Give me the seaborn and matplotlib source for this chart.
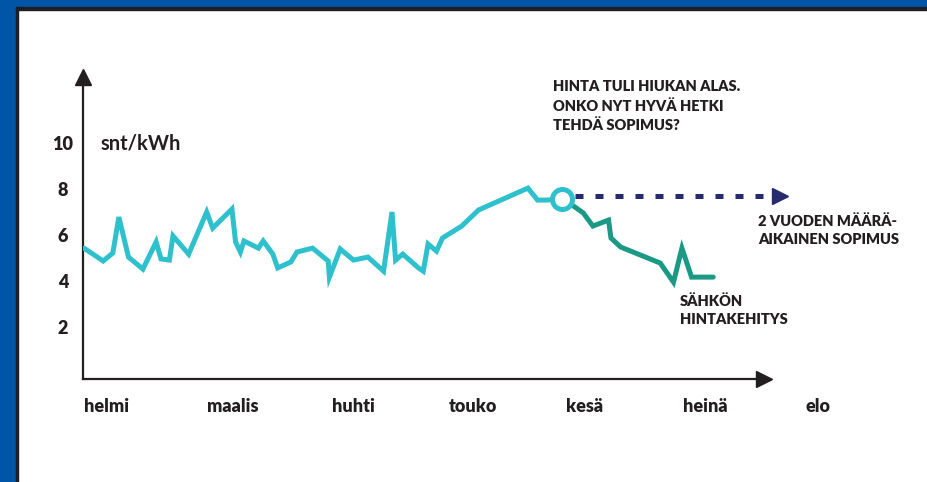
import pandas as pd
import matplotlib.pyplot as plt
import seaborn as sns
from matplotlib.patches import Rectangle


'''data read off the picture: x in months from start of helmi, y in snt/kWh'''
hist_x = [0.0, 0.16, 0.24, 0.29, 0.37, 0.49, 0.60, 0.64, 0.71, 0.74, 0.87,
          1.02, 1.07, 1.23, 1.26, 1.30, 1.33, 1.45, 1.49, 1.57, 1.61, 1.72,
          1.77, 1.90, 2.03, 2.04, 2.13, 2.24, 2.36, 2.49, 2.56, 2.59, 2.65,
          2.78, 2.82, 2.86, 2.93, 2.98, 3.14, 3.28, 3.69, 3.77, 3.85, 3.97]
hist_y = [5.43, 4.87, 5.22, 6.78, 5.04, 4.52, 5.70, 4.96, 4.91, 5.96, 5.17,
          7.00, 6.30, 7.13, 5.70, 5.26, 5.74, 5.43, 5.74, 5.17, 4.57, 4.83,
          5.26, 5.43, 4.87, 4.17, 5.39, 4.91, 5.04, 4.43, 7.00, 4.91, 5.17,
          4.57, 4.43, 5.61, 5.30, 5.87, 6.39, 7.09, 8.04, 7.52, 7.52, 7.57]

drop_x = [3.97, 4.08, 4.15, 4.23, 4.36, 4.38, 4.46, 4.79, 4.90, 4.97, 5.05, 5.23]
drop_y = [7.57, 7.22, 6.96, 6.39, 6.65, 5.87, 5.48, 4.78, 3.95, 5.43, 4.17, 4.17]

fixed_x = [4.08, 5.70]
fixed_y = [7.70, 7.70]

months = ['helmi', 'maalis', 'huhti', 'touko', 'kesä', 'heinä', 'elo']
month_pos = [0, 1.02, 2.06, 3.03, 4.01, 4.98, 6.0]
yticks = [2, 4, 6, 8, 10]

cyan = '#2ec0cc'
teal = '#1a9a85'
navy = '#272a6e'
ink = '#231f20'


sns.set_theme(style='white')
plt.rcParams['font.family'] = ['Lato', 'DejaVu Sans']

fig = plt.figure(figsize=(9.27, 4.82), dpi=100)
fig.patch.set_facecolor('white')

'''blue frame on top and left with a dark inner edge'''
W, H = 927, 482
fig.patches.append(Rectangle((0, 1 - 7 / H), 1, 7 / H, transform=fig.transFigure,
                             color='#0055a6', zorder=0))
fig.patches.append(Rectangle((0, 0), 16 / W, 1, transform=fig.transFigure,
                             color='#0055a6', zorder=0))
fig.patches.append(Rectangle((16 / W, 1 - 10 / H), 1, 3 / H, transform=fig.transFigure,
                             color='#1e1e28', zorder=0))
fig.patches.append(Rectangle((16 / W, 0), 2 / W, 1 - 7 / H, transform=fig.transFigure,
                             color='#1e1e28', zorder=0))

ax = fig.add_axes([83 / W, 0.2137, (763.5 - 83) / W, 0.8402 - 0.2137])
ax.set_facecolor('none')

df_hist = pd.DataFrame({'month': hist_x, 'price': hist_y})
df_drop = pd.DataFrame({'month': drop_x, 'price': drop_y})
df_fixed = pd.DataFrame({'month': fixed_x, 'price': fixed_y})

sns.lineplot(data=df_drop, x='month', y='price', sort=False, color=teal, lw=3.6,
             solid_joinstyle='miter', ax=ax, zorder=3)
sns.lineplot(data=df_hist, x='month', y='price', sort=False, color=cyan, lw=3.6,
             solid_joinstyle='miter', ax=ax, zorder=4)
sns.lineplot(data=df_fixed, x='month', y='price', sort=False, color=navy, lw=3.6,
             linestyle=(0, (1.6, 2.4)), ax=ax, zorder=3)
ax.plot(5.786, fixed_y[-1], '>', color=navy, ms=12, clip_on=False, zorder=3)
ax.plot(hist_x[-1], hist_y[-1], 'o', mfc='white', mec=cyan, ms=14.4, mew=3.6, zorder=5)

ax.set_xlim(-0.008, 5.648)
ax.set_ylim(-0.26, 12.87)

'''arrow axes'''
for side in ['top', 'right']:
    ax.spines[side].set_visible(False)
for side in ['left', 'bottom']:
    ax.spines[side].set_color(ink)
    ax.spines[side].set_linewidth(1.6)
ax.plot(1, 0, '>', color=ink, ms=12, transform=ax.transAxes, clip_on=False)
ax.plot(0, 1, '^', color=ink, ms=12, transform=ax.transAxes, clip_on=False)

ax.set_xticks([])
ax.set_yticks(yticks)
ax.set_yticklabels([str(v) for v in yticks], fontsize=13, fontweight='heavy',
                   color=ink, ha='center')
ax.tick_params(axis='y', length=0, pad=14.4)
ax.set_xlabel('')
ax.set_ylabel('')

for m, xp in zip(months, month_pos):
    ax.text(xp, -1.45, m, ha='left', va='center', fontsize=13, fontweight='heavy',
            color=ink, clip_on=False)

ax.text(0.14, 10.0, 'snt/kWh', ha='left', va='center', fontsize=14.5,
        fontweight='bold', color=ink)

ax.text(3.90, 12.72, 'HINTA TULI HIUKAN ALAS.\nONKO NYT HYVÄ HETKI\nTEHDÄ SOPIMUS?',
        ha='left', va='top', fontsize=10.5, fontweight='heavy', color=ink,
        linespacing=1.45)
ax.text(5.60, 6.9, '2 VUODEN MÄÄRÄ-\nAIKAINEN SOPIMUS', ha='left', va='top',
        fontsize=10.5, fontweight='heavy', color=ink, linespacing=1.45, clip_on=False)
ax.text(4.95, 3.42, 'SÄHKÖN\nHINTAKEHITYS', ha='left', va='top',
        fontsize=10.5, fontweight='heavy', color=ink, linespacing=1.45)

fig.savefig('out.png', dpi=100)
